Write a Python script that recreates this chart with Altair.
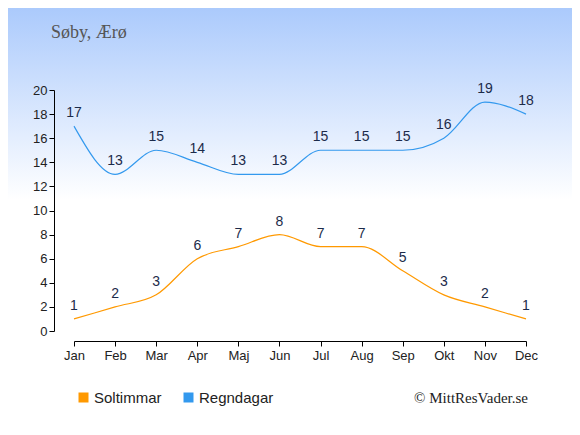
import altair as alt
import pandas as pd

months = ["Jan", "Feb", "Mar", "Apr", "Maj", "Jun", "Jul", "Aug", "Sep", "Okt", "Nov", "Dec"]
sun = [1, 2, 3, 6, 7, 8, 7, 7, 5, 3, 2, 1]
rain = [17, 13, 15, 14, 13, 13, 15, 15, 15, 16, 19, 18]
series_names = ["Soltimmar", "Regndagar"]
series_colors = ["#ff9900", "#3399ee"]
y_ticks = list(range(0, 21, 2))
title_text = "Søby, Ærø"
credit_text = "© MittResVader.se"

df = pd.DataFrame(
    {
        "month": months * 2,
        "value": sun + rain,
        "series": [series_names[0]] * len(months) + [series_names[1]] * len(months),
    }
)

x_enc = alt.X(
    "month:N",
    sort=months,
    scale=alt.Scale(type="point", padding=0),
    axis=alt.Axis(
        title=None,
        labelAngle=0,
        offset=10,
        tickSize=5,
        labelPadding=3,
        domainColor="#000",
        tickColor="#000",
        labelColor="#222",
        labelFont="Liberation Sans",
        labelFontSize=13,
        grid=False,
        zindex=1,
    ),
)
y_enc = alt.Y(
    "value:Q",
    scale=alt.Scale(domain=[0, 20], nice=False),
    axis=alt.Axis(
        title=None,
        values=y_ticks,
        offset=20,
        tickSize=5,
        labelPadding=2,
        domainColor="#000",
        tickColor="#000",
        labelColor="#222",
        labelFont="Liberation Sans",
        labelFontSize=13,
        grid=False,
        zindex=1,
    ),
)

bg = (
    alt.Chart(pd.DataFrame({"a": [0]}))
    .mark_rect(
        fill=alt.Gradient(
            gradient="linear",
            stops=[
                alt.GradientStop(color="#abcafc", offset=0),
                alt.GradientStop(color="#ffffff", offset=1),
            ],
            x1=0, x2=0, y1=0, y2=1,
        )
    )
    .encode(x=alt.value(-66), x2=alt.value(498), y=alt.value(-82), y2=alt.value(110))
)

base = alt.Chart(df)

lines = base.mark_line(interpolate="monotone", strokeWidth=1.2).encode(
    x=x_enc,
    y=y_enc,
    color=alt.Color(
        "series:N",
        scale=alt.Scale(domain=series_names, range=series_colors),
        sort=series_names,
        legend=alt.Legend(
            title=None,
            orient="none",
            legendX=2,
            legendY=300,
            direction="horizontal",
            symbolType="square",
            symbolSize=25,
            symbolStrokeWidth=5,
            labelOffset=3,
            columnPadding=14,
            labelFont="Liberation Sans",
            labelFontSize=15,
            labelColor="#222",
        ),
    ),
)

labels = base.mark_text(
    dy=-13, fontSize=14, font="Liberation Sans", color="#1c2b4a", baseline="middle"
).encode(x=x_enc, y=y_enc, text="value:Q")

title = (
    alt.Chart(pd.DataFrame({"t": [title_text]}))
    .mark_text(align="left", baseline="middle", font="Liberation Serif", fontSize=18, color="#555")
    .encode(x=alt.value(-23), y=alt.value(-57), text="t:N")
)

credit = (
    alt.Chart(pd.DataFrame({"t": [credit_text]}))
    .mark_text(align="right", baseline="middle", font="Liberation Serif", fontSize=15, color="#222")
    .encode(x=alt.value(454), y=alt.value(308), text="t:N")
)

chart = (
    alt.layer(bg, lines, labels, title, credit)
    .properties(
        width=452,
        height=241,
        padding={"left": 66, "top": 82, "right": 46, "bottom": 96},
        autosize=alt.AutoSizeParams(type="none"),
    )
    .configure_view(stroke=None)
)

chart.save("out.html", embed_options={"renderer": "svg", "actions": False})
